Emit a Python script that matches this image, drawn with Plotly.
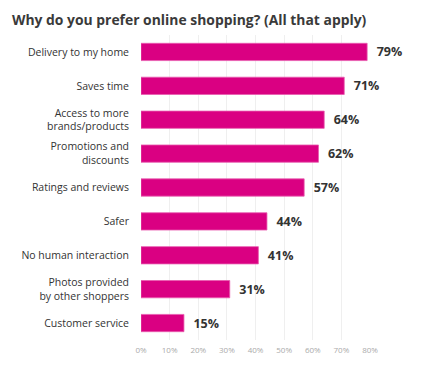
import plotly.graph_objects as go

categories = ["Delivery to my home", "Saves time", "Access to more<br>brands/products",
              "Promotions and<br>discounts", "Ratings and reviews", "Safer",
              "No human interaction", "Photos provided<br>by other shoppers", "Customer service"]
values = [79, 71, 64, 62, 57, 44, 41, 31, 15]
tick_vals = [0, 10, 20, 30, 40, 50, 60, 70, 80]
tick_text = ["0%", "10%", "20%", "30%", "40%", "50%", "60%", "70%", "80%"]

W, H = 435, 367
left, right, top, bottom = 141, 370, 35, 346

fig = go.Figure(go.Bar(
    x=values, y=categories, orientation="h",
    marker=dict(color="#DA0082", line=dict(color="#E85AAE", width=0.8)),
    text=["\u00a0\u00a0" + f"{v}%" for v in values], textposition="outside",
    textfont=dict(family="Open Sans", size=12.5, color="#333333", weight="bold"),
    cliponaxis=False,
))

fig.update_layout(
    width=W, height=H,
    margin=dict(l=left, r=W - right, t=top, b=H - bottom, pad=0),
    plot_bgcolor="white", paper_bgcolor="white",
    bargap=0.49,
    showlegend=False,
    title=dict(text="Why do you prefer online shopping? (All that apply)",
               x=12 / W, xanchor="left", y=1 - 20 / H, yanchor="middle",
               font=dict(family="Open Sans", size=13.9, color="#3a3a3a", weight="bold")),
    xaxis=dict(range=[0, 80], tickvals=tick_vals, ticktext=tick_text,
               showgrid=True, gridcolor="#EFEFEF", gridwidth=1, zeroline=False,
               showline=False, ticks="", ticklabelstandoff=4,
               tickfont=dict(family="Open Sans", size=8, color="#AAAAAA")),
    yaxis=dict(autorange="reversed", showgrid=False, showline=False, ticks="",
               ticklabelstandoff=11,
               tickfont=dict(family="Open Sans", size=10.5, color="#333333")),
)

fig.write_html("out.html", config={"displayModeBar": False},
               post_script="document.body.style.margin='0';")
